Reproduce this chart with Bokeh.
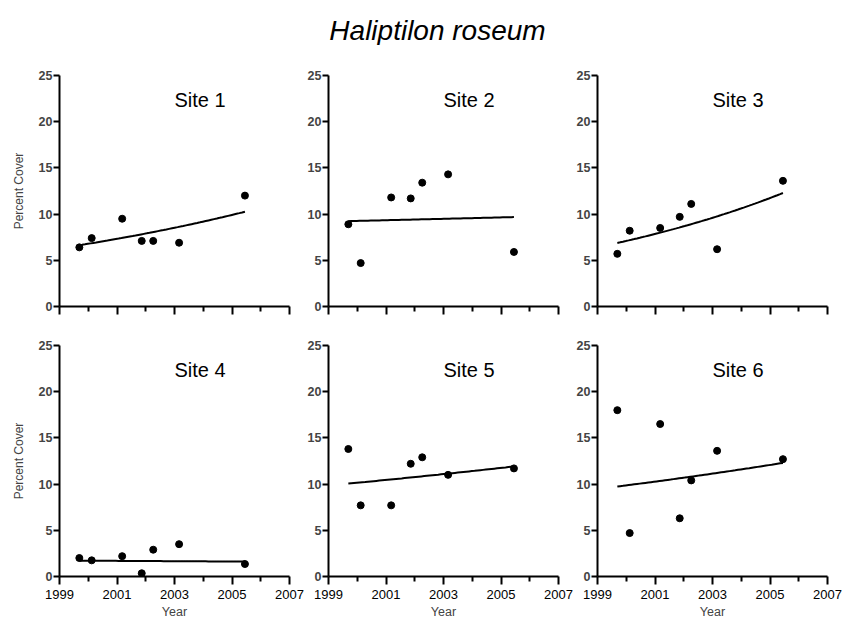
import numpy as np
from bokeh.plotting import figure
from bokeh.models import FixedTicker, Range1d, Label
from bokeh.layouts import column, row
from bokeh.embed import file_html
from bokeh.resources import INLINE

# ---------------- data ----------------
title_text = "Haliptilon roseum"
site_names = ["Site 1", "Site 2", "Site 3", "Site 4", "Site 5", "Site 6"]
years = [1999.69, 2000.12, 2001.18, 2001.86, 2002.26, 2003.16, 2005.45]
site1 = [6.4, 7.4, 9.5, 7.1, 7.1, 6.9, 12.0]
site2 = [8.9, 4.7, 11.8, 11.7, 13.4, 14.3, 5.9]
site3 = [5.7, 8.2, 8.5, 9.7, 11.1, 6.2, 13.6]
site4 = [2.0, 1.75, 2.2, 0.35, 2.9, 3.5, 1.35]
site5 = [13.8, 7.7, 7.7, 12.2, 12.9, 11.0, 11.7]
site6 = [18.0, 4.7, 16.5, 6.3, 10.4, 13.6, 12.7]
x_major_ticks = [1999, 2001, 2003, 2005, 2007]
x_minor_ticks = [2000, 2002, 2004, 2006]
y_ticks = [0, 5, 10, 15, 20, 25]
x_label = "Year"
y_label = "Percent Cover"

FONT = "Liberation Sans"


def make_panel(vals, name, col, bottom_row):
    left = 59 if col == 0 else 24
    right = 17 if col == 2 else 15
    top = 9 if bottom_row else 30
    bottom = 47 if bottom_row else 30
    p = figure(frame_width=230, frame_height=231,
               x_range=Range1d(1999, 2007), y_range=Range1d(0, 25),
               output_backend="svg", toolbar_location=None,
               min_border_left=left, min_border_right=right,
               min_border_top=top, min_border_bottom=bottom,
               outline_line_color=None, background_fill_color="white",
               border_fill_color="white")
    p.grid.visible = False

    xa = p.xaxis[0]
    xa.ticker = FixedTicker(ticks=x_major_ticks, minor_ticks=x_minor_ticks)
    xa.axis_line_width = 2
    xa.major_tick_line_width = 2
    xa.minor_tick_line_width = 2
    xa.major_tick_in = 0
    xa.major_tick_out = 8
    xa.minor_tick_in = 0
    xa.minor_tick_out = 5
    xa.major_label_text_font = FONT
    xa.major_label_text_font_size = "13px"
    xa.major_label_text_color = "black"
    xa.major_label_standoff = 5
    if bottom_row:
        xa.axis_label = x_label
        xa.axis_label_text_font = FONT
        xa.axis_label_text_font_size = "12.5px"
        xa.axis_label_text_font_style = "normal"
        xa.axis_label_standoff = 3
    else:
        xa.major_label_text_color = None
        xa.major_label_standoff = 0

    ya = p.yaxis[0]
    ya.ticker = FixedTicker(ticks=y_ticks)
    ya.axis_line_width = 2
    ya.major_tick_line_width = 2
    ya.major_tick_in = 0
    ya.major_tick_out = 6
    ya.minor_tick_line_color = None
    ya.major_label_text_font = FONT
    ya.major_label_text_font_size = "12.5px"
    ya.major_label_text_font_style = "bold"
    ya.major_label_standoff = 1
    if col == 0:
        ya.axis_label = y_label
        ya.axis_label_text_font = FONT
        ya.axis_label_text_font_size = "12px"
        ya.axis_label_text_font_style = "normal"
        ya.axis_label_standoff = 10

    # fitted exponential trend (log-linear least squares on the data)
    xs = np.array(years)
    ys = np.array(vals)
    b, a = np.polyfit(xs - 1999, np.log(ys), 1)
    xf = np.linspace(xs.min(), xs.max(), 60)
    yf = np.exp(a + b * (xf - 1999))
    p.line(xf, yf, line_color="black", line_width=2)

    p.scatter(years, vals, size=7, color="black")

    p.add_layout(Label(x=2003.0, y=22.35, text=name, text_font=FONT,
                       text_font_size="20px", text_align="left",
                       text_baseline="alphabetic", text_color="black"))
    return p


title_fig = figure(width=844, height=45, x_range=Range1d(0, 844), y_range=Range1d(0, 45),
                   output_backend="svg", toolbar_location=None, min_border=0,
                   outline_line_color=None)
title_fig.axis.visible = False
title_fig.grid.visible = False
title_fig.add_layout(Label(x=437, y=15.5, text=title_text, text_font=FONT,
                           text_font_style="italic", text_font_size="28px",
                           text_align="center", text_baseline="alphabetic",
                           text_color="black"))

data = [site1, site2, site3, site4, site5, site6]
panels = [make_panel(data[i], site_names[i], i % 3, i >= 3) for i in range(6)]

layout = column(title_fig,
                row(panels[0], panels[1], panels[2], spacing=0),
                row(panels[3], panels[4], panels[5], spacing=0),
                spacing=0)

open("out.html", "w").write(file_html(layout, INLINE))
